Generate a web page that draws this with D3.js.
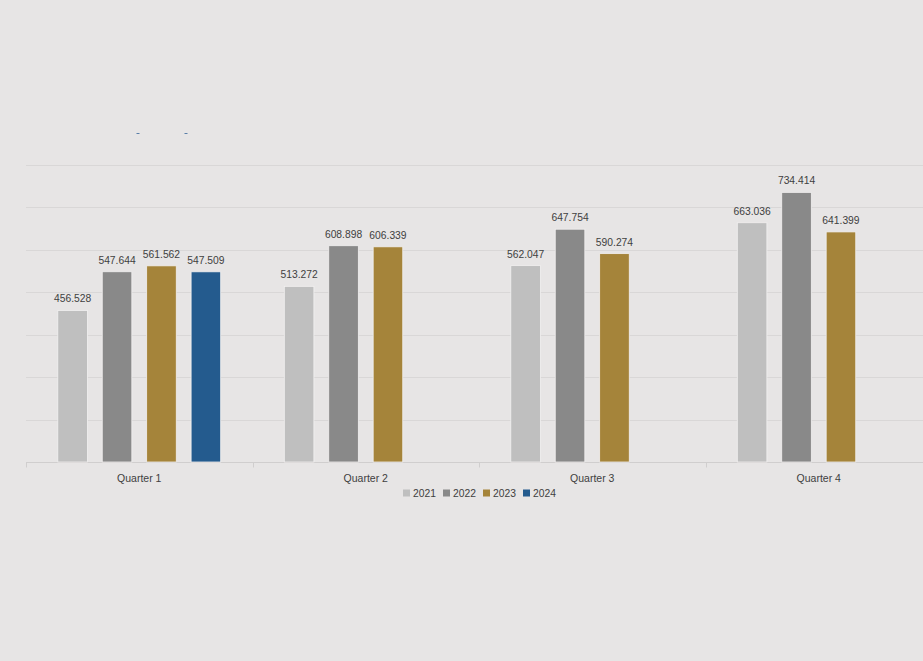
<!DOCTYPE html>
<html><head><meta charset="utf-8">
<script src="https://cdn.jsdelivr.net/npm/d3@7"></script>
<style>
html,body{margin:0;padding:0;background:#e7e5e5;}
svg{display:block;}
text{font-family:"Liberation Sans",Arial,sans-serif;fill:#404040;}
</style></head><body>
<script>
const quarters = ["Quarter 1","Quarter 2","Quarter 3","Quarter 4"];
const years = ["2021","2022","2023","2024"];
const v2021 = [456.528, 513.272, 562.047, 663.036];
const v2022 = [547.644, 608.898, 647.754, 734.414];
const v2023 = [561.562, 606.339, 590.274, 641.399];
const v2024 = [547.509, null, null, null];
const yTicks = [100,200,300,400,500,600,700,800];
const colors = ["#bfbfbf","#898989","#a5843a","#245b8e"];

const series = [v2021, v2022, v2023, v2024];
const W = 923, H = 661;
const svg = d3.select("body").append("svg").attr("width",W).attr("height",H);
svg.append("rect").attr("width",W).attr("height",H).attr("fill","#e7e5e5");

const left = 26, catW = 226.5;
const x0 = d3.scaleBand().domain(quarters).range([left, left + catW*quarters.length]).padding(0);
const x1 = d3.scaleBand().domain(years).range([0, x0.bandwidth()]).paddingInner(0.334).paddingOuter(0.716);
const y = d3.scaleLinear().domain([100,800]).range([462,164.5]);

// gridlines
svg.append("g").selectAll("line").data(yTicks.slice(1)).join("line")
  .attr("x1",left).attr("x2",W).attr("y1",d=>Math.round(y(d))+0.5).attr("y2",d=>Math.round(y(d))+0.5)
  .attr("stroke","#d9d7d7").attr("stroke-width",1);

// baseline axis
const xAxis = svg.append("g").attr("transform",`translate(0,${Math.round(y(100))+0.5})`);
xAxis.append("line").attr("x1",left).attr("x2",W).attr("stroke","#d0cece");
xAxis.selectAll("line.tick").data(quarters.concat(["end"])).join("line").attr("class","tick")
  .attr("x1",(d,i)=>Math.round(left+i*x0.step())+0.5).attr("x2",(d,i)=>Math.round(left+i*x0.step())+0.5)
  .attr("y1",0).attr("y2",5).attr("stroke","#d0cece");
xAxis.selectAll("text").data(quarters).join("text")
  .attr("x",d=>x0(d)+x0.bandwidth()/2).attr("y",19)
  .attr("text-anchor","middle").attr("font-size","10.5px").text(d=>d);

// bars
const rows = [];
quarters.forEach((q,qi)=>years.forEach((yr,si)=>{
  const v = series[si][qi];
  if (v != null) rows.push({q, yr, v, si});
}));
const g = svg.append("g");
g.selectAll("rect").data(rows).join("rect")
  .attr("x",d=>x0(d.q)+x1(d.yr)).attr("width",x1.bandwidth())
  .attr("y",d=>y(d.v)).attr("height",d=>y(100)-y(d.v))
  .attr("fill",d=>colors[d.si]).attr("stroke","#f2f0f0").attr("stroke-width",0.8);
g.selectAll("text").data(rows).join("text")
  .attr("x",d=>x0(d.q)+x1(d.yr)+x1.bandwidth()/2).attr("y",d=>y(d.v)-8)
  .attr("text-anchor","middle").attr("font-size","10.3px").attr("fill","#262626")
  .text(d=>d.v.toFixed(3));

// legend
const legend = svg.append("g").attr("transform","translate(403,493)");
const li = legend.selectAll("g").data(years).join("g").attr("transform",(d,i)=>`translate(${i*40},0)`);
li.append("rect").attr("x",0).attr("y",-3.5).attr("width",7).attr("height",7).attr("fill",(d,i)=>colors[i]);
li.append("text").attr("x",10).attr("y",4).attr("font-size","10.3px").text(d=>d);

// small stray marks near top-left
svg.selectAll("rect.mark").data([138,186]).join("rect").attr("class","mark")
  .attr("x",d=>d-1.5).attr("y",133).attr("width",3).attr("height",1).attr("fill","#5a7fa8");
</script>
</body></html>
